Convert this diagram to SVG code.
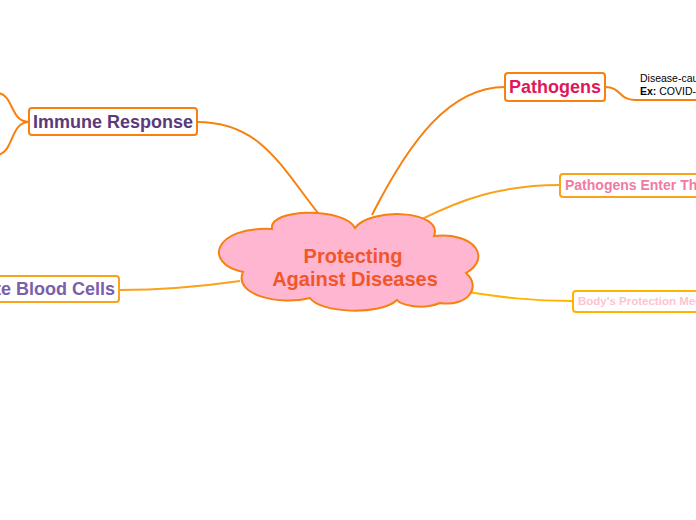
<svg xmlns="http://www.w3.org/2000/svg" width="696" height="520" viewBox="0 0 696 520">
<style>
.box{fill:#fff;stroke-width:2}
.t{font-family:"Liberation Sans",Arial,sans-serif;font-weight:bold}
.c{fill:none;stroke-width:2}
</style>
<rect width="696" height="520" fill="#fff"/>
<g id="connectors">
<path class="c" stroke="#f7800f" d="M197,122 C260,122 280,165 318,213"/>
<path class="c" stroke="#f7800f" d="M505,87 C450,87 410,140 372,215"/>
<path class="c" stroke="#f7800f" d="M605,87 C622,87 618,100 635,100 L696,100"/>
<path class="c" stroke="#f7800f" d="M29,122 C10,122 14,95 -2,93"/>
<path class="c" stroke="#f7800f" d="M29,122 C10,122 14,152 -2,155"/>
<path class="c" stroke="#f9a21b" d="M560,185 C500,185 460,200 420,220"/>
<path class="c" stroke="#f9a21b" d="M119,290 C170,290 205,286 240,281"/>
<path class="c" stroke="#ffb400" d="M573,301 C530,301 500,297 468,292"/>
</g>
<g id="center">
<path fill="#ffb6d0" stroke="#f7800f" stroke-width="2" d="M272,229 C268,208 345,207 355,228 C370,207 444,210 434,236 C475,232 492,258 466,273 C482,287 468,307 440,303 C420,311 400,304 397,300 C380,316 320,313 310,298 C280,306 233,295 243,272 C203,264 213,226 272,229 Z"/>
<text class="t" x="353" y="263" text-anchor="middle" font-size="20" fill="#f0562a">Protecting</text>
<text class="t" x="355" y="286" text-anchor="middle" font-size="20" fill="#f0562a">Against Diseases</text>
</g>
<g id="immune">
<rect class="box" x="29" y="108" width="168" height="27" rx="3" stroke="#f7800f"/>
<text class="t" x="113" y="128" text-anchor="middle" font-size="18" fill="#5b3a7a">Immune Response</text>
</g>
<g id="pathogens">
<rect class="box" x="505" y="73" width="100" height="28" rx="3" stroke="#f7800f"/>
<text class="t" x="555" y="93" text-anchor="middle" font-size="18" fill="#e0185a">Pathogens</text>
</g>
<g id="pathogens-note">
<text font-family="Liberation Sans,Arial,sans-serif" font-size="10.5" x="640" y="82" fill="#000">Disease-causing</text>
<text font-family="Liberation Sans,Arial,sans-serif" font-size="10.5" x="640" y="95" fill="#000"><tspan font-weight="bold">Ex:</tspan> COVID-19</text>
</g>
<g id="enter">
<rect class="box" x="560" y="174" width="170" height="23" rx="3" stroke="#f9a21b"/>
<text class="t" x="565" y="190" font-size="14" fill="#f07aa0">Pathogens Enter The Body</text>
</g>
<g id="protection">
<rect class="box" x="573" y="291" width="170" height="21" rx="3" stroke="#ffb400"/>
<text class="t" x="578" y="305" font-size="11.5" fill="#ffc2d0">Body's Protection Mechanisms</text>
</g>
<g id="wbc">
<rect class="box" x="-60" y="276" width="179" height="26" rx="3" stroke="#f9a21b"/>
<text class="t" x="115" y="295" text-anchor="end" font-size="18" fill="#7a5faa">White Blood Cells</text>
</g>
</svg>
